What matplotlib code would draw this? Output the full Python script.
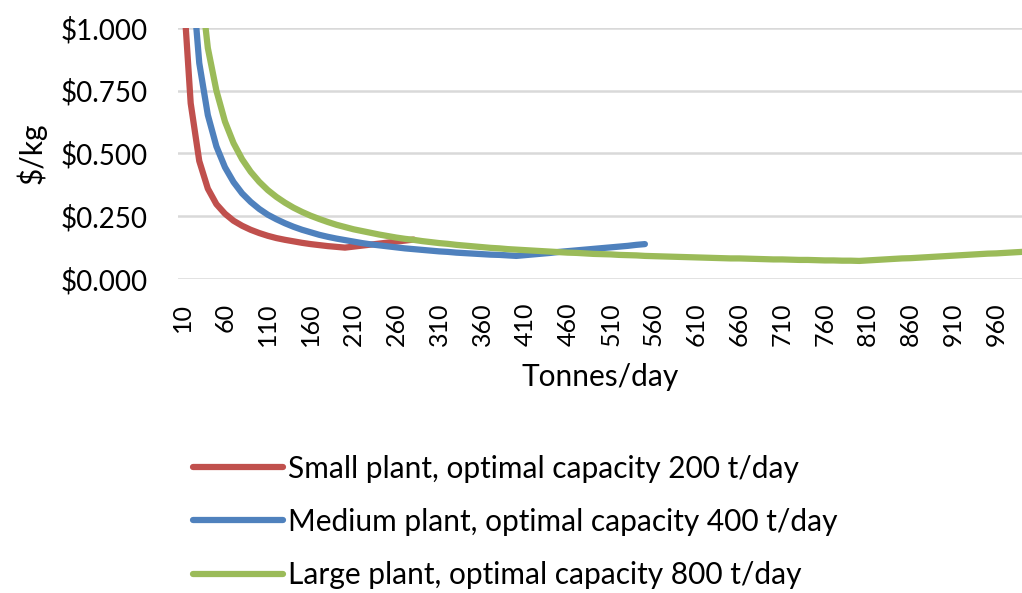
"""Cost per kg vs. throughput for three plant sizes (Excel-style line chart)."""

import matplotlib
matplotlib.use("Agg")
import matplotlib.pyplot as plt
from matplotlib.ticker import FuncFormatter

# throughput categories, t/day
tonnes = list(range(10, 1001, 10))

# $/kg; first points run off the top of the axis
small_plant = [
    1.224, 0.700, 0.470, 0.360, 0.298, 0.260, 0.232, 0.212, 0.196, 0.183,
    0.172, 0.163, 0.156, 0.150, 0.144, 0.139, 0.135, 0.131, 0.128, 0.125,
    0.129, 0.133, 0.137, 0.141, 0.145, 0.149, 0.153, 0.157,
]
medium_plant = [
    2.520, 1.275, 0.860, 0.653, 0.528, 0.445, 0.386, 0.341, 0.307, 0.279,
    0.256, 0.238, 0.222, 0.208, 0.196, 0.186, 0.176, 0.168, 0.161, 0.155,
    0.149, 0.143, 0.138, 0.134, 0.130, 0.126, 0.122, 0.119, 0.116, 0.113,
    0.110, 0.108, 0.105, 0.103, 0.101, 0.099, 0.097, 0.096, 0.094, 0.092,
    0.095, 0.098, 0.101, 0.104, 0.108, 0.111, 0.114, 0.117, 0.120, 0.123,
    0.126, 0.129, 0.132, 0.136, 0.139,
]
large_plant = [
    3.627, 1.827, 1.227, 0.920, 0.750, 0.627, 0.541, 0.477, 0.427, 0.387,
    0.354, 0.327, 0.304, 0.284, 0.267, 0.252, 0.239, 0.227, 0.216, 0.207,
    0.198, 0.191, 0.184, 0.177, 0.171, 0.165, 0.160, 0.156, 0.151, 0.147,
    0.143, 0.140, 0.136, 0.133, 0.130, 0.127, 0.124, 0.122, 0.119, 0.117,
    0.115, 0.113, 0.111, 0.109, 0.107, 0.105, 0.104, 0.102, 0.100, 0.099,
    0.098, 0.096, 0.095, 0.094, 0.092, 0.091, 0.090, 0.089, 0.088, 0.087,
    0.086, 0.085, 0.084, 0.083, 0.082, 0.082, 0.081, 0.080, 0.079, 0.078,
    0.078, 0.077, 0.076, 0.076, 0.075, 0.074, 0.074, 0.073, 0.073, 0.072,
    0.074, 0.076, 0.078, 0.080, 0.082, 0.083, 0.085, 0.087, 0.089, 0.091,
    0.093, 0.095, 0.097, 0.099, 0.101, 0.102, 0.104, 0.106, 0.108, 0.110,
]

labels = [
    "Small plant, optimal capacity 200 t/day",
    "Medium plant, optimal capacity 400 t/day",
    "Large plant, optimal capacity 800 t/day",
]
colors = ["#C0504D", "#4F81BD", "#9BBB59"]
x_ticks = list(range(10, 961, 50))

plt.rcParams["font.family"] = ["Lato", "DejaVu Sans"]
FS_TICK = 20
FS = 21.5

fig = plt.figure(figsize=(10.22, 5.93), dpi=100)
ax = fig.add_axes([0.174, 0.5295, 0.826, 0.4235])

for vals, lab, col in zip([small_plant, medium_plant, large_plant], labels, colors):
    ax.plot(tonnes[:len(vals)], vals, color=col, lw=4.5, label=lab,
            solid_capstyle="round", solid_joinstyle="round")

ax.set_ylim(0, 1)
ax.set_xlim(5, 990)
ax.set_yticks([0, 0.25, 0.5, 0.75, 1.0])
ax.yaxis.set_major_formatter(FuncFormatter(lambda v, _: f"${v:.3f}"))
ax.set_xticks(x_ticks)
ax.set_xticklabels([str(t) for t in x_ticks], rotation=90)
ax.tick_params(axis="both", length=0)
ax.tick_params(axis="y", pad=22, labelsize=FS_TICK)
ax.tick_params(axis="x", pad=17, labelsize=18)
ax.grid(axis="y", color="#D9D9D9", lw=1.8)
ax.set_axisbelow(True)
for s in ax.spines.values():
    s.set_visible(False)

ax.set_ylabel("$/kg", fontsize=FS, labelpad=10)
ax.set_xlabel("Tonnes/day", fontsize=FS, labelpad=12)

leg = fig.legend(loc="upper left", bbox_to_anchor=(0.189, 0.233), frameon=False,
                 fontsize=FS, handlelength=3.0, handletextpad=0.17,
                 labelspacing=0.84, borderpad=0, borderaxespad=0)
for h in leg.get_lines():
    h.set_linewidth(4.5)
    h.set_solid_capstyle("round")

fig.savefig("out.png", dpi=100)
